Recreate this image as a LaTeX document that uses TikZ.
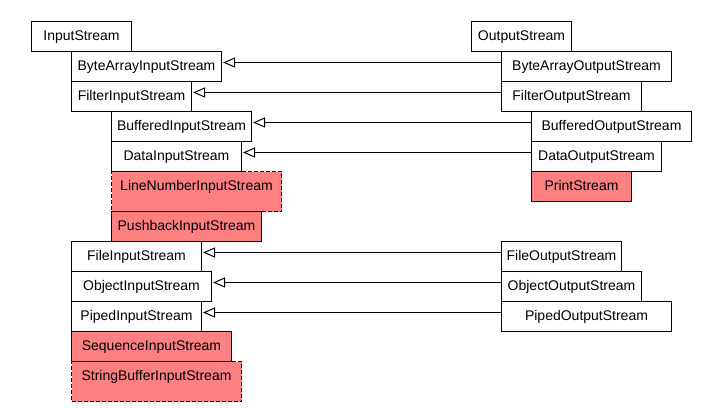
\documentclass[tikz,border=0pt]{standalone}
\usepackage{fontspec}
\setmainfont{Liberation Sans}
\usepackage{tikz}
\usetikzlibrary{arrows.meta,positioning}
\definecolor{deprecated}{RGB}{255,128,128}

\begin{document}
\begin{tikzpicture}[x=1pt,y=-1pt,
  cls/.style={draw,line width=1pt,anchor=north west,inner sep=0pt,
    text height=19pt,text depth=11pt,font=\fontsize{14}{16}\selectfont},
  old/.style={cls,fill=deprecated},
  gone/.style={old,text depth=21pt,dash pattern=on 4pt off 2pt},
  impl/.style={line width=1pt,-{Triangle[open,length=12pt,width=10pt,fill=white]}}]
\useasboundingbox (0,0) rectangle (722,407);
% input side
\node[cls,minimum width=100pt] (is) at (31,21) {InputStream};
\node[cls,minimum width=150pt] (bais) at (71,51) {ByteArrayInputStream};
\node[cls,minimum width=120pt] (fis) at (71,81) {FilterInputStream};
\node[cls,minimum width=140pt] (bis) at (111,111) {BufferedInputStream};
\node[cls,minimum width=130pt] (dis) at (111,141) {DataInputStream};
\node[gone,minimum width=170pt] (lnis) at (111,171) {LineNumberInputStream};
\node[old,minimum width=150pt] (pbis) at (111,211) {PushbackInputStream};
\node[cls,minimum width=130pt] (fileis) at (71,241) {FileInputStream};
\node[cls,minimum width=140pt] (ois) at (71,271) {ObjectInputStream};
\node[cls,minimum width=130pt] (pis) at (71,301) {PipedInputStream};
\node[old,minimum width=160pt] (sis) at (71,331) {SequenceInputStream};
\node[gone,minimum width=170pt] (sbis) at (71,361) {StringBufferInputStream};
% output side
\node[cls,minimum width=100pt] (os) at (471,21) {OutputStream};
\node[cls,minimum width=170pt] (baos) at (501,51) {ByteArrayOutputStream};
\node[cls,minimum width=140pt] (fos) at (501,81) {FilterOutputStream};
\node[cls,minimum width=160pt] (bos) at (531,111) {BufferedOutputStream};
\node[cls,minimum width=130pt] (dos) at (531,141) {DataOutputStream};
\node[old,minimum width=100pt] (ps) at (531,171) {PrintStream};
\node[cls,minimum width=120pt] (fileos) at (501,241) {FileOutputStream};
\node[cls,minimum width=140pt] (oos) at (501,271) {ObjectOutputStream};
\node[cls,minimum width=170pt] (pos) at (501,301) {PipedOutputStream};
% counterparts
\foreach \o/\i in {baos/bais,fos/fis,bos/bis,dos/dis,fileos/fileis,oos/ois,pos/pis}
  \draw[impl] ([yshift=4pt]\o.west) -- ([yshift=4pt,xshift=1pt]\i.east);
\end{tikzpicture}
\end{document}
